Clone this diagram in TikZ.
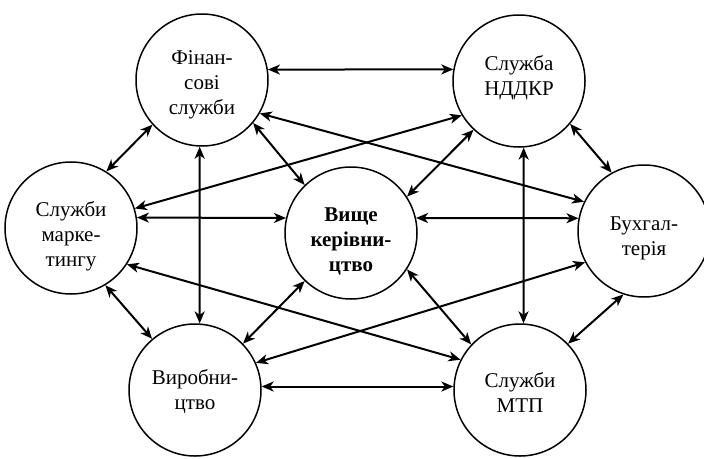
\documentclass[tikz,border=0pt]{standalone}
\usepackage{fontspec}
\setmainfont{Liberation Serif}
\usetikzlibrary{arrows.meta}
\begin{document}
\begin{tikzpicture}[x=1pt,y=-1pt,
  unit/.style={circle,draw,line width=1.5pt,minimum size=132pt,inner sep=0pt},
  lbl/.style={align=center,inner sep=0pt,font=\fontsize{21}{25}\selectfont},
  link/.style={{Stealth[length=12pt,width=10pt,inset=3.5pt]}-{Stealth[length=12pt,width=10pt,inset=3.5pt]},line width=2pt}]
\useasboundingbox (0,0) rectangle (704,458);
\node[unit] (F) at (202,80) {};
\node[unit] (N) at (519,81) {};
\node[unit] (M) at (71,228) {};
\node[unit] (V) at (351,233) {};
\node[unit] (B) at (644,231) {};
\node[unit] (W) at (195,390) {};
\node[unit] (T) at (520,390) {};
\node[lbl] (Ft) at (202,85) {Фінан-\\сові\\служби};
\node[lbl] (Nt) at (519,78) {Служба\\НДДКР};
\node[lbl] (Mt) at (71,236) {Служби\\марке-\\тингу};
\node[lbl,font=\fontsize{21}{25}\selectfont\bfseries] (Vt) at (351,241) {Вище\\керівни-\\цтво};
\node[lbl] (Bt) at (644,238) {Бухгал-\\терія};
\node[lbl] (Wt) at (195,392) {Виробни-\\цтво};
\node[lbl] (Tt) at (520,392) {Служби\\МТП};
\draw[link] (F.9) -- (N.170);
\draw[link] (F.222) -- (M.58);
\draw[link] (F.268) -- (W.86);
\draw[link] (F.-40) -- (V.134);
\draw[link] (F.-30) -- (B.154);
\draw[link] (N.211) -- (M.17);
\draw[link] (N.227) -- (V.33);
\draw[link] (N.274) -- (T.87);
\draw[link] (N.-40) -- (B.119);
\draw[link] (M.9) -- (V.167);
\draw[link] (M.-59) -- (W.130);
\draw[link] (M.-33) -- (T.153);
\draw[link] (V.13) -- (B.169);
\draw[link] (V.226) -- (W.44);
\draw[link] (V.-33) -- (T.137);
\draw[link] (B.208) -- (W.24);
\draw[link] (B.252) -- (T.44);
\draw[link] (W.3) -- (T.177);
\end{tikzpicture}
\end{document}
